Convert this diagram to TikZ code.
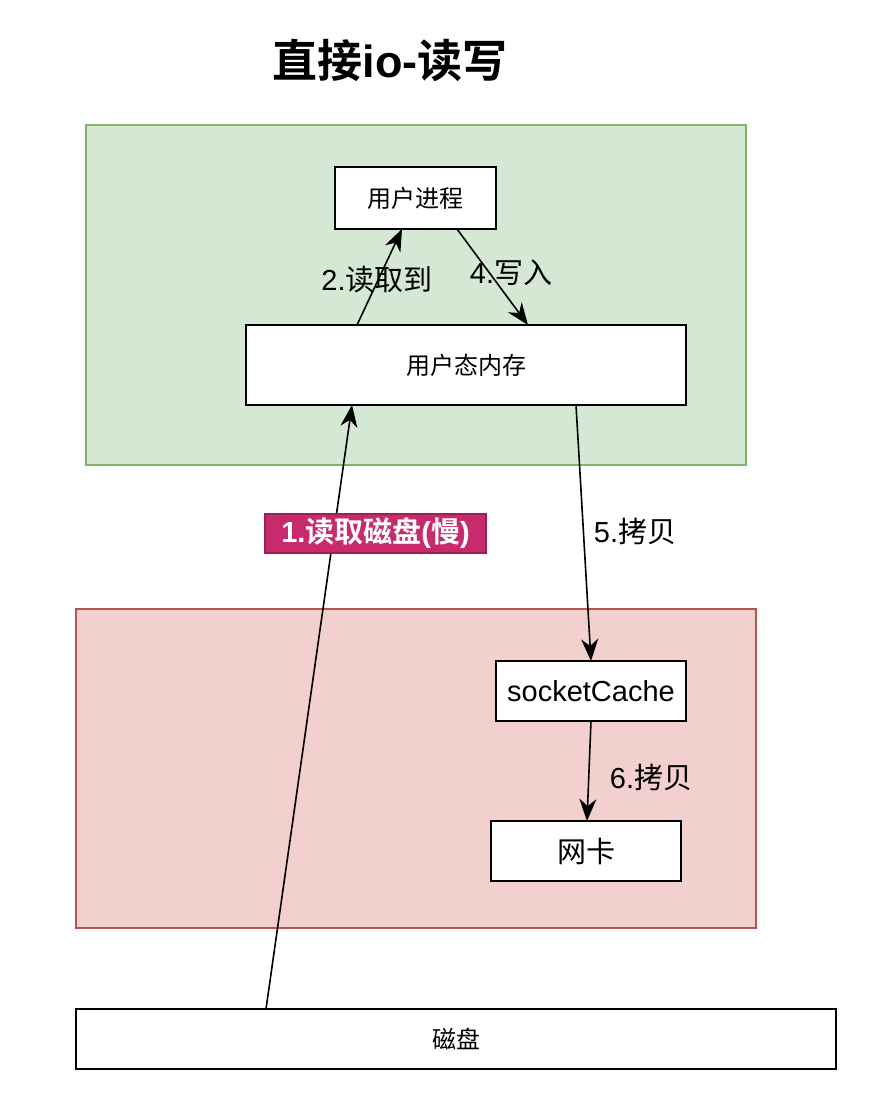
\documentclass[tikz,border=0pt]{standalone}
\usepackage{fontspec}
\setmainfont{Liberation Sans}
\newfontfamily\cjk{Noto Sans CJK SC}[BoldFont={Noto Sans CJK SC Bold}]
\usetikzlibrary{arrows.meta,calc}
\definecolor{grfill}{HTML}{D5E8D4}
\definecolor{grline}{HTML}{82B366}
\definecolor{rdfill}{HTML}{F2D0CE}
\definecolor{rdline}{HTML}{B85450}
\definecolor{mgfill}{RGB}{200,42,110}
\definecolor{mgline}{RGB}{160,30,80}
\newcommand\szS{\fontsize{24}{28}\selectfont}
\newcommand\szL{\fontsize{29}{33}\selectfont}
\newcommand\szT{\fontsize{45}{50}\selectfont}
\begin{document}
\begin{tikzpicture}[x=1pt,y=-1pt,
  region/.style={draw, line width=1.2pt, inner sep=0pt, outer sep=0pt},
  wbox/.style={draw=black, fill=white, line width=1.8pt, inner sep=0pt, outer sep=0pt},
  lbl/.style={inner sep=0pt, outer sep=0pt, anchor=center},
  conn/.style={draw=black, line width=1.6pt, -{Stealth[length=22pt,width=17pt,inset=7pt]}}]
\useasboundingbox (0,0) rectangle (884,1100);
% regions
\node[region, draw=grline, fill=grfill, minimum width=660pt, minimum height=340pt] (green) at (416,295) {};
\node[region, draw=rdline, fill=rdfill, minimum width=680pt, minimum height=319pt] (red) at (416,768.5) {};
% title
\node[lbl] (title) at (390,60) {\szT\bfseries{\cjk 直接}io-{\cjk 读写}};
% boxes
\node[wbox, minimum width=161pt, minimum height=62pt] (proc) at (415.5,198) {\szS\cjk 用户进程};
\node[wbox, minimum width=440pt, minimum height=80pt] (mem) at (466,365) {\szS\cjk 用户态内存};
\node[wbox, minimum width=190pt, minimum height=60pt] (sock) at (591,691) {\szL socketCache};
\node[wbox, minimum width=190pt, minimum height=60pt] (nic) at (586,851) {\szL\cjk 网卡};
\node[wbox, minimum width=760pt, minimum height=60pt] (disk) at (456,1039) {\szS\cjk 磁盘};
% connectors
\draw[conn] ([xshift=190pt]disk.north west) -- ([xshift=106pt]mem.south west);
\draw[conn] ([xshift=111pt]mem.north west) -- ([xshift=67pt]proc.south west);
\draw[conn] ([xshift=122pt]proc.south west) -- ([xshift=282pt]mem.north west);
\draw[conn] ([xshift=330pt]mem.south west) -- ([xshift=95pt]sock.north west);
\draw[conn] ([xshift=95pt]sock.south west) -- ([xshift=96pt]nic.north west);
% labels
\node[lbl] (l2) at (377,280) {\szL 2.{\cjk 读取到}};
\node[lbl] (l4) at (511,273) {\szL 4.{\cjk 写入}};
\node[lbl] (l5) at (635,531) {\szL 5.{\cjk 拷贝}};
\node[lbl] (l6) at (651,777) {\szL 6.{\cjk 拷贝}};
\node[draw=mgline, fill=mgfill, line width=1.2pt, inner sep=0pt, minimum width=221pt, minimum height=39pt, text=white] (l1) at (375.5,533.5) {\szL\bfseries 1.{\cjk 读取磁盘}({\cjk 慢})};
\end{tikzpicture}
\end{document}
